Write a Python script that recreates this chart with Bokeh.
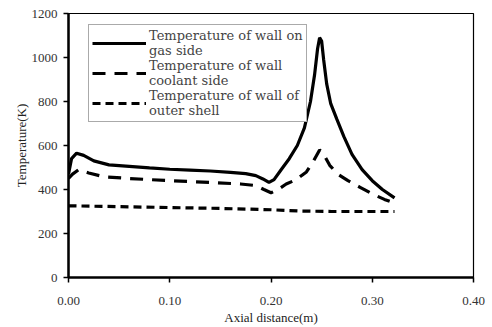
from bokeh.plotting import figure
from bokeh.models import Range1d, Legend, LegendItem, SingleIntervalTicker, NumeralTickFormatter
from bokeh.embed import file_html
from bokeh.resources import INLINE

# Axial positions (m) and wall temperatures (K)
x_gas = [0.000, 0.003, 0.008, 0.015, 0.025, 0.040, 0.060, 0.080, 0.100, 0.120, 0.140,
         0.160, 0.175, 0.185, 0.192, 0.198, 0.203, 0.210, 0.218, 0.226, 0.233, 0.239,
         0.243, 0.246, 0.248, 0.250, 0.252, 0.255, 0.259, 0.265, 0.272, 0.280, 0.290,
         0.300, 0.310, 0.322]
t_gas = [470, 540, 565, 555, 530, 512, 505, 498, 492, 488, 484,
         478, 472, 463, 448, 432, 445, 490, 540, 600, 680, 800,
         920, 1040, 1090, 1075, 990, 880, 790, 720, 640, 560, 490,
         440, 400, 362]

x_cool = [0.000, 0.004, 0.010, 0.020, 0.035, 0.060, 0.100, 0.140, 0.170, 0.185, 0.193,
          0.200, 0.207, 0.215, 0.225, 0.235, 0.242, 0.248, 0.252, 0.258, 0.266, 0.276,
          0.288, 0.300, 0.312, 0.322]
t_cool = [450, 470, 490, 475, 458, 450, 440, 432, 425, 418, 400,
          385, 400, 425, 445, 480, 530, 580, 560, 510, 470, 440,
          410, 380, 355, 338]

x_shell = [0.000, 0.050, 0.100, 0.150, 0.200, 0.230, 0.260, 0.300, 0.322]
t_shell = [326, 322, 318, 314, 308, 302, 300, 300, 300]

labels = ["Temperature of wall on\ngas side",
          "Temperature of wall\ncoolant side",
          "Temperature of wall of\nouter shell"]

SERIF = "Liberation Serif"

p = figure(width=492, height=327, output_backend="svg", toolbar_location=None,
           x_range=Range1d(0, 0.4), y_range=Range1d(0, 1200),
           min_border_left=68, min_border_right=19, min_border_top=13, min_border_bottom=50)
p.outline_line_color = "black"
p.outline_line_width = 1.2
p.xgrid.visible = False
p.ygrid.visible = False
p.background_fill_color = "white"

r1 = p.line(x_gas, t_gas, line_color="black", line_width=3.2)
r2 = p.line(x_cool, t_cool, line_color="black", line_width=3.2, line_dash="13 9")
r3 = p.line(x_shell, t_shell, line_color="black", line_width=3.2, line_dash="8 5")

for ax in (p.xaxis[0], p.yaxis[0]):
    ax.axis_line_width = 2.5
    ax.axis_line_color = "black"
    ax.major_tick_line_color = "black"
    ax.major_tick_line_width = 1.5
    ax.major_tick_in = 0
    ax.major_tick_out = 5
    ax.minor_tick_line_color = None
    ax.major_label_text_font = SERIF
    ax.major_label_text_font_size = "13px"
    ax.major_label_text_color = "#333333"
    ax.axis_label_text_font = SERIF
    ax.axis_label_text_font_style = "normal"
    ax.axis_label_text_font_size = "13px"
    ax.axis_label_text_color = "#222222"

p.xaxis.ticker = SingleIntervalTicker(interval=0.1)
p.xaxis.formatter = NumeralTickFormatter(format="0.00")
p.xaxis.major_label_standoff = 14
p.xaxis.axis_label = "Axial distance(m)"
p.xaxis.axis_label_standoff = 2

p.yaxis.ticker = SingleIntervalTicker(interval=200)
p.yaxis.major_label_standoff = 6
p.yaxis.axis_label = "Temperature(K)"
p.yaxis.axis_label_standoff = 0

legend = Legend(items=[LegendItem(label=labels[0], renderers=[r1]),
                       LegendItem(label=labels[1], renderers=[r2]),
                       LegendItem(label=labels[2], renderers=[r3])],
                location=(20, 155))
legend.label_text_font = "DejaVu Serif"
legend.label_text_font_size = "13px"
legend.label_text_line_height = 0.95
legend.label_standoff = 3
legend.glyph_width = 54
legend.glyph_height = 30
legend.label_height = 30
legend.spacing = 0
legend.padding = 3
legend.margin = 0
legend.border_line_color = "#555555"
legend.border_line_width = 1
legend.background_fill_alpha = 1
p.add_layout(legend)

open("out.html", "w").write(file_html(p, INLINE))
